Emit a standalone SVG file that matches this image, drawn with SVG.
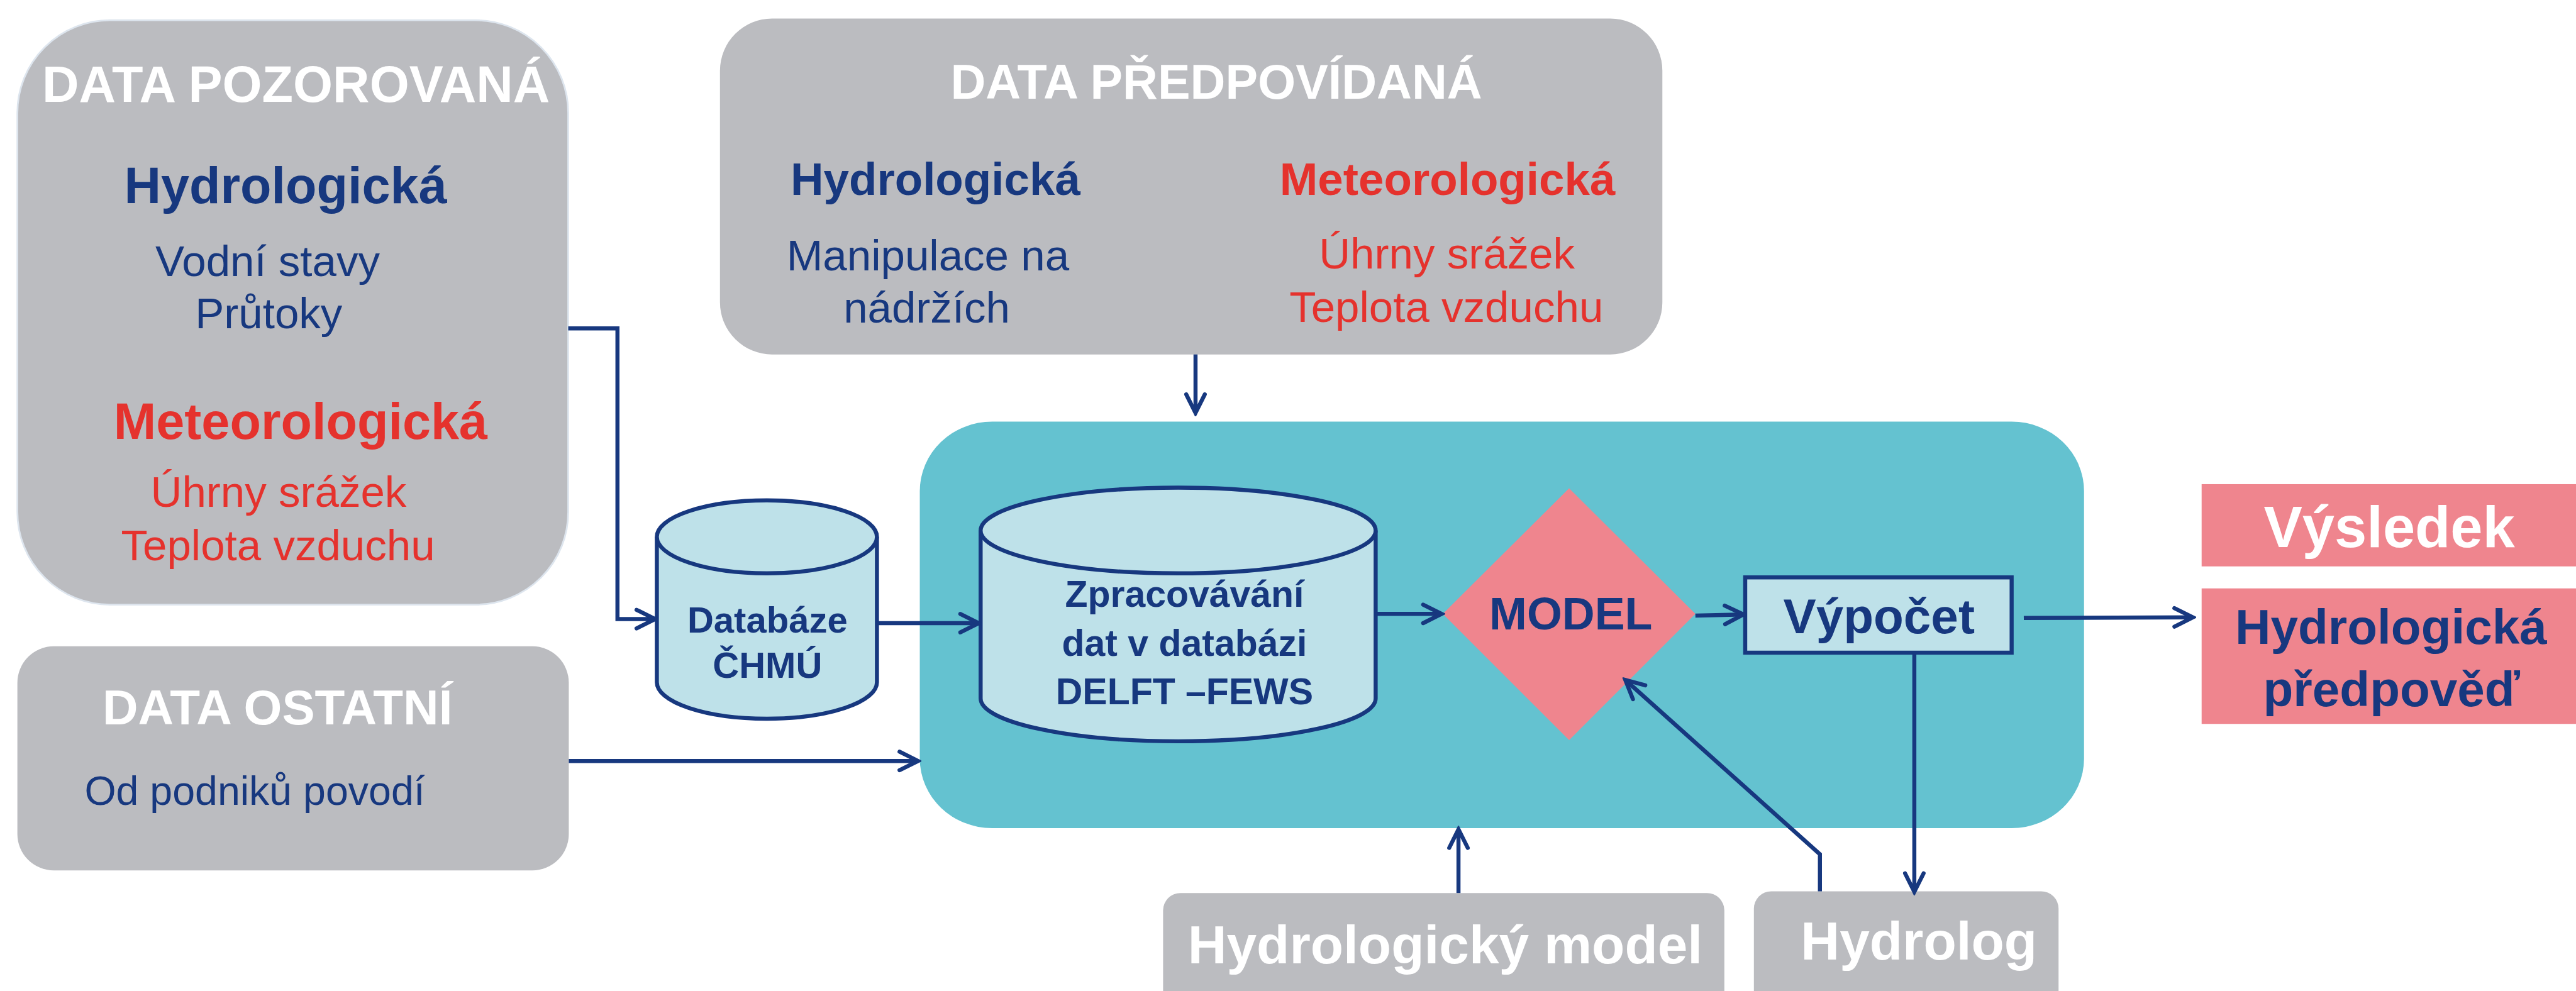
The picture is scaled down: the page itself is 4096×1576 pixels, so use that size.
<svg xmlns="http://www.w3.org/2000/svg" width="4096" height="1576" viewBox="0 0 4096 1576">
<style>
.gray{fill:#BBBCC0}
.hdr{font-family:"Liberation Sans",Arial,sans-serif;font-weight:bold;fill:#FFFFFF;text-anchor:middle}
.bb{font-family:"Liberation Sans",Arial,sans-serif;font-weight:bold;fill:#17387F;text-anchor:middle}
.br{font-family:"Liberation Sans",Arial,sans-serif;font-weight:bold;fill:#E5322D;text-anchor:middle}
.rb{font-family:"Liberation Sans",Arial,sans-serif;fill:#17387F;text-anchor:middle}
.rr{font-family:"Liberation Sans",Arial,sans-serif;fill:#E5322D;text-anchor:middle}
.db{fill:#BEE1E9;stroke:#17387F;stroke-width:7}
.pink{fill:#EF858E}
.conn{fill:none;stroke:#17387F;stroke-width:7}
</style>
<defs>
<marker id="arr" markerUnits="userSpaceOnUse" viewBox="-40 -22 46 44" markerWidth="46" markerHeight="44" refX="0" refY="0" orient="auto">
<path d="M-32,-16 L0,0 L-32,16" fill="none" stroke="#17387F" stroke-width="7" stroke-linecap="round" stroke-linejoin="miter"/>
</marker>
</defs>
<rect width="4096" height="1576" fill="#FFFFFF"/>
<g transform="scale(0.921)">
<g id="teal-area">
<rect x="1588" y="728" width="2010" height="702" rx="125" ry="120" fill="#64C2D0"/>
</g>
<g id="data-pozorovana">
<rect class="gray" x="30" y="35" width="951" height="1009" rx="160" ry="160" stroke="#DDE5EE" stroke-width="3"/>
<text class="hdr" x="511" y="176" font-size="88">DATA POZOROVANÁ</text>
<text class="bb" x="493" y="351" font-size="88">Hydrologická</text>
<text class="rb" x="462" y="477" font-size="75">Vodní stavy</text>
<text class="rb" x="464" y="567" font-size="75">Průtoky</text>
<text class="br" x="519" y="758" font-size="88">Meteorologická</text>
<text class="rr" x="481" y="875" font-size="75">Úhrny srážek</text>
<text class="rr" x="480" y="967" font-size="75">Teplota vzduchu</text>
</g>
<g id="data-predpovidana">
<rect class="gray" x="1243" y="32" width="1627" height="580" rx="90" ry="90"/>
<text class="hdr" x="2100" y="170" font-size="84">DATA PŘEDPOVÍDANÁ</text>
<text class="bb" x="1615" y="337" font-size="79">Hydrologická</text>
<text class="br" x="2499" y="337" font-size="79">Meteorologická</text>
<text class="rb" x="1602" y="467" font-size="75">Manipulace na</text>
<text class="rb" x="1600" y="557" font-size="75">nádržích</text>
<text class="rr" x="2498" y="464" font-size="75">Úhrny srážek</text>
<text class="rr" x="2497" y="556" font-size="75">Teplota vzduchu</text>
</g>
<g id="data-ostatni">
<rect class="gray" x="30" y="1116" width="952" height="387" rx="63" ry="63"/>
<text class="hdr" x="479" y="1251" font-size="85">DATA OSTATNÍ</text>
<text class="rb" x="146" y="1390" font-size="70" style="text-anchor:start">Od podniků povodí</text>
</g>
<g id="databaze-chmu">
<path class="db" d="M1134,927 L1134,1178 A190,63 0 0 0 1514,1178 L1514,927"/>
<ellipse class="db" cx="1324" cy="927" rx="190" ry="63"/>
<text class="bb" x="1325" y="1092" font-size="63">Databáze</text>
<text class="bb" x="1325" y="1171" font-size="63">ČHMÚ</text>
</g>
<g id="delft-fews">
<path class="db" d="M1693,916 L1693,1206 A341,74 0 0 0 2375,1206 L2375,916"/>
<ellipse class="db" cx="2034" cy="916" rx="341" ry="74"/>
<text class="bb" x="2045" y="1048" font-size="64">Zpracovávání</text>
<text class="bb" x="2045" y="1132" font-size="64">dat v databázi</text>
<text class="bb" x="2045" y="1216" font-size="64">DELFT –FEWS</text>
</g>
<g id="model">
<polygon class="pink" points="2709,843 2927,1060 2709,1278 2491,1060"/>
<text class="bb" x="2712" y="1087" font-size="78">MODEL</text>
</g>
<g id="vypocet">
<rect class="db" x="3013" y="997" width="460" height="130"/>
<text class="bb" x="3244" y="1093" font-size="85">Výpočet</text>
</g>
<g id="vysledek">
<rect class="pink" x="3801" y="836" width="650" height="142"/>
<text class="hdr" x="4125" y="945" font-size="100">Výsledek</text>
</g>
<g id="hydrologicka-predpoved">
<rect class="pink" x="3801" y="1016" width="650" height="234"/>
<text class="bb" x="4128" y="1112" font-size="85">Hydrologická</text>
<text class="bb" x="4129" y="1219" font-size="85">předpověď</text>
</g>
<g id="hydrologicky-model">
<rect class="gray" x="2008" y="1542" width="969" height="260" rx="30" ry="30"/>
<text class="hdr" x="2495" y="1663" font-size="93">Hydrologický model</text>
</g>
<g id="hydrolog">
<rect class="gray" x="3028" y="1539" width="526" height="260" rx="30" ry="30"/>
<text class="hdr" x="3313" y="1657" font-size="93">Hydrolog</text>
</g>
<g id="connectors">
<polyline class="conn" points="981,567 1066,567 1066,1069 1131,1069" marker-end="url(#arr)"/>
<line class="conn" x1="1514" y1="1076" x2="1690" y2="1076" marker-end="url(#arr)"/>
<line class="conn" x1="982" y1="1314" x2="1585" y2="1314" marker-end="url(#arr)"/>
<line class="conn" x1="2064" y1="612" x2="2064" y2="713" marker-end="url(#arr)"/>
<line class="conn" x1="2375" y1="1060" x2="2489" y2="1060" marker-end="url(#arr)"/>
<line class="conn" x1="2927" y1="1063" x2="3010" y2="1061" marker-end="url(#arr)"/>
<line class="conn" x1="3494" y1="1067" x2="3786" y2="1066" marker-end="url(#arr)"/>
<line class="conn" x1="3305" y1="1127" x2="3305" y2="1540" marker-end="url(#arr)"/>
<line class="conn" x1="2518" y1="1542" x2="2518" y2="1432" marker-end="url(#arr)"/>
<polyline class="conn" points="3142,1539 3142,1475 2806,1174" marker-end="url(#arr)"/>
</g>
</g>
</svg>
